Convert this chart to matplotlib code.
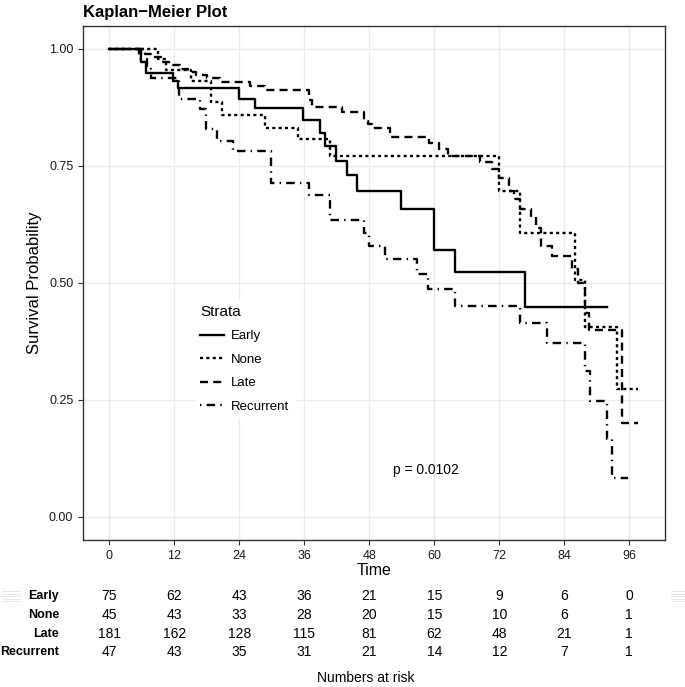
import matplotlib
matplotlib.use("Agg")
import matplotlib.pyplot as plt
from matplotlib.lines import Line2D

plt.rcParams['font.family'] = ['Liberation Sans', 'DejaVu Sans']

# step times / survival probabilities
early_t = [0, 5.9, 6.8, 11.8, 12.6, 23.9, 26.8, 35.8, 38.8, 39.9, 41.9, 43.9, 45.7, 53.9, 59.9, 63.9, 76.8, 91.8]
early_s = [1.0, 0.973, 0.948, 0.932, 0.916, 0.894, 0.873, 0.849, 0.820, 0.793, 0.761, 0.731, 0.697, 0.657, 0.570, 0.524, 0.448, 0.448]

none_t = [0, 8.9, 10.5, 15.0, 18.8, 20.8, 28.8, 34.8, 40.7, 71.9, 75.8, 85.9, 87.9, 93.8, 97.7]
none_s = [1.0, 0.978, 0.956, 0.932, 0.886, 0.859, 0.832, 0.807, 0.771, 0.697, 0.607, 0.506, 0.405, 0.272, 0.272]

late_t = [0, 6.5, 8.0, 9.5, 11.0, 13.0, 14.5, 16.0, 18.0, 20.5, 26.0, 28.7, 36.8, 37.5, 43.0, 47.0, 47.7, 48.5, 51.9,
          59.0, 60.8, 62.6, 68.5, 70.6, 71.9, 73.7, 74.8, 75.8, 77.8, 78.8, 79.7, 81.7, 85.4, 86.5, 87.8, 88.5, 94.6, 97.7]
late_s = [1.0, 0.990, 0.983, 0.972, 0.966, 0.958, 0.950, 0.944, 0.937, 0.929, 0.921, 0.912, 0.890, 0.875, 0.866, 0.846, 0.839, 0.832, 0.811,
          0.800, 0.786, 0.771, 0.759, 0.743, 0.725, 0.697, 0.679, 0.657, 0.640, 0.618, 0.579, 0.557, 0.529, 0.500, 0.436, 0.400, 0.200, 0.200]

rec_t = [0, 5.5, 7.0, 7.6, 12.9, 16.8, 17.8, 19.9, 22.9, 29.9, 36.8, 40.8, 47.0, 47.9, 50.8, 56.8, 58.8, 63.9,
         75.9, 80.8, 87.9, 88.8, 91.9, 92.8, 95.8]
rec_s = [1.0, 0.979, 0.957, 0.937, 0.893, 0.871, 0.829, 0.804, 0.782, 0.714, 0.688, 0.634, 0.607, 0.579, 0.550, 0.518, 0.486, 0.450,
         0.413, 0.372, 0.311, 0.247, 0.165, 0.083, 0.083]

strata = ['Early', 'None', 'Late', 'Recurrent']
risk_times = [0, 12, 24, 36, 48, 60, 72, 84, 96]
risk_early = [75, 62, 43, 36, 21, 15, 9, 6, 0]
risk_none = [45, 43, 33, 28, 20, 15, 10, 6, 1]
risk_late = [181, 162, 128, 115, 81, 62, 48, 21, 1]
risk_rec = [47, 43, 35, 31, 21, 14, 12, 7, 1]
p_text = 'p = 0.0102'

W, H = 685, 687
fig = plt.figure(figsize=(W/100, H/100), dpi=100)
ax = fig.add_axes([83/W, 1-540/H, 582/W, 514.4/H])

styles = ['-', (0, (1.3, 1.4)), (0, (3.4, 2.2)), (0, (0.6, 2.2, 3.6, 2.2))]
curves = [(early_t, early_s), (none_t, none_s), (late_t, late_s), (rec_t, rec_s)]
for (t, s), ls, name in zip(curves, styles, strata):
    ax.step(t, s, where='post', color='black', lw=1.7, linestyle=ls, label=name)

ax.set_xlim(-4.88, 102.6)
ax.set_ylim(-0.05, 1.05)
ax.set_xticks(risk_times)
ax.set_yticks([0, 0.25, 0.5, 0.75, 1.0])
ax.set_yticklabels(['0.00', '0.25', '0.50', '0.75', '1.00'])
ax.grid(True, color='#EBEBEB', lw=1.0)
ax.set_axisbelow(True)
for sp in ax.spines.values():
    sp.set_color('#333333')
    sp.set_linewidth(1.0)
ax.tick_params(colors='#333333', labelcolor='#1a1a1a', length=3.5, width=0.8, labelsize=9)
ax.set_xlabel('Time', fontsize=11.5, labelpad=1)
ax.set_ylabel('Survival Probability', fontsize=12, labelpad=5)

ax.text(58.5, 0.1, p_text, fontsize=10, ha='center', va='center')

leg = ax.legend(loc='center', bbox_to_anchor=(0.278, 0.352), title='Strata', fontsize=9.5, title_fontsize=11,
                frameon=True, fancybox=False, handlelength=1.8, labelspacing=0.85, handletextpad=0.5)
leg.get_frame().set_edgecolor('white')
leg.get_frame().set_facecolor('white')
leg.get_frame().set_alpha(1)
leg._legend_box.align = 'left'

fig.text(83/W, 1-12/H, 'Kaplan\u2212Meier Plot', fontsize=12, weight='bold', va='center', ha='left')

# numbers at risk table
rows_y = [596, 615, 634, 652]
tables = [risk_early, risk_none, risk_late, risk_rec]
for name, vals, py in zip(strata, tables, rows_y):
    fy = 1 - py/H
    fig.text(59/W, fy, name, fontsize=9, weight='bold', ha='right', va='center')
    for t, v in zip(risk_times, vals):
        x_fig = fig.transFigure.inverted().transform(ax.transData.transform((t, 0)))[0]
        fig.text(x_fig, fy, str(v), fontsize=10, ha='center', va='center')
fig.text(366/W, 1-678/H, 'Numbers at risk', fontsize=10, ha='center', va='center')

# faint stripes beside the table
for k in range(5):
    yy = 1 - (591 + 2.5*k)/H
    fig.add_artist(Line2D([2/W, 20/W], [yy, yy], color='#E3E3E3', lw=0.6))
    fig.add_artist(Line2D([671/W, 685/W], [yy, yy], color='#E3E3E3', lw=0.6))

fig.savefig('out.png', dpi=100)
